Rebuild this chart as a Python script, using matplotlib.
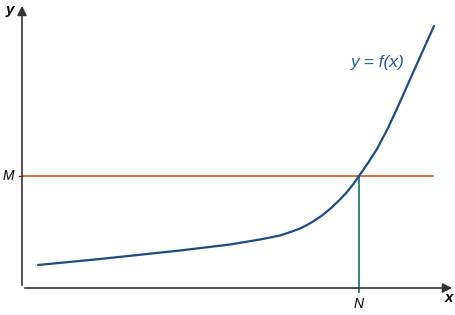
import matplotlib.pyplot as plt

plt.rcParams['font.family'] = ['Liberation Sans', 'DejaVu Sans']

# curva y = f(x) (unidades ~ pixeles desde el origen)
curva_x = [16, 78, 158, 208, 238, 258, 270, 278, 285, 291, 300, 308, 317, 325, 331, 337, 346, 355, 366, 378, 386, 394, 403, 412]
curva_y = [23, 29, 37.5, 43.5, 48.5, 52.5, 56.5, 59.5, 63, 66.5, 72.5, 79, 87.5, 96, 103.5, 112, 125, 139, 160, 186, 204, 222, 242, 262]
nivel_M = 112
punto_N = 337

fig = plt.figure(figsize=(4.56, 3.15), dpi=100)
ax = fig.add_axes([22 / 456, 27 / 315, 433 / 456, 285 / 315])
ax.set_xlim(0, 433)
ax.set_ylim(0, 285)
ax.axis('off')

gris = '#333333'
# ejes con flechas
ax.annotate('', xy=(433, 0), xytext=(0, 0),
            arrowprops=dict(arrowstyle='-|>', color=gris, lw=1.2, mutation_scale=14), annotation_clip=False)
ax.annotate('', xy=(0, 285), xytext=(0, 0),
            arrowprops=dict(arrowstyle='-|>', color=gris, lw=1.2, mutation_scale=14), annotation_clip=False)

ax.plot([0, 412], [nivel_M, nivel_M], color='#e8672a', lw=1.4, solid_capstyle='butt')
ax.plot([-3, 0], [nivel_M, nivel_M], color=gris, lw=1.0, clip_on=False)
ax.plot([punto_N, punto_N], [-4, nivel_M], color='#1e8c8c', lw=1.4, clip_on=False)
ax.plot(curva_x, curva_y, color='#1b4c84', lw=1.6, solid_capstyle='round', solid_joinstyle='round')

ax.text(-12, 285 - 7, 'y', fontsize=11, style='italic', weight='bold', ha='center', va='center')
ax.text(427, -10, 'x', fontsize=11, style='italic', weight='bold', ha='center', va='center')
ax.text(-14, nivel_M, 'M', fontsize=10, style='italic', ha='center', va='center')
ax.text(punto_N, -16, 'N', fontsize=10, style='italic', ha='center', va='center')
ax.text(356, 225, 'y = f(x)', fontsize=12.5, style='italic', color='#2a5a92', ha='center', va='center')

plt.savefig('out.png', dpi=100)
